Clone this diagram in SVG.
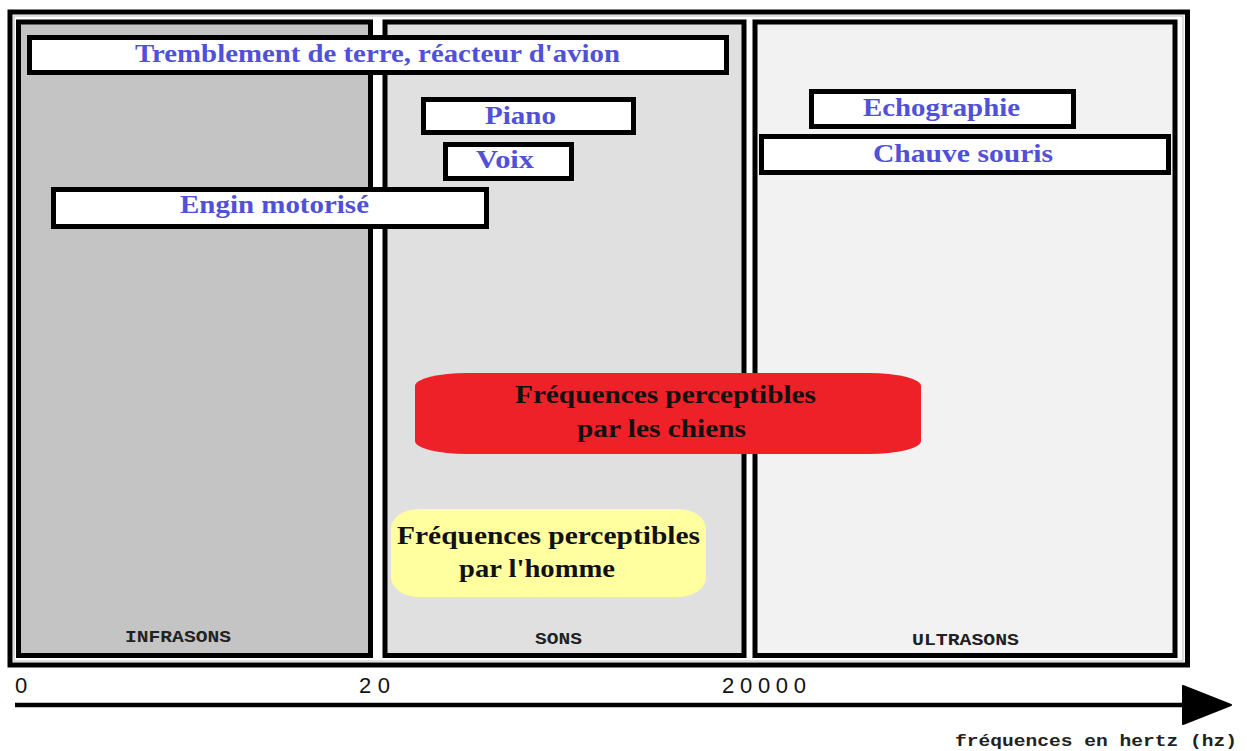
<svg xmlns="http://www.w3.org/2000/svg" width="1247" height="751" viewBox="0 0 1247 751">
<style>
.panel{stroke:#000;stroke-width:5}
.box{fill:#fff;stroke:#000;stroke-width:5}
.lbl{font-family:"Liberation Serif",serif;font-weight:bold;font-size:26px;fill:#5050d8}
.blk{font-family:"Liberation Serif",serif;font-weight:bold;font-size:25px;fill:#111}
.mono{font-family:"Liberation Mono",monospace;font-weight:bold;font-size:17px;fill:#222}
.num{font-family:"Liberation Sans",sans-serif;font-size:22px;fill:#111}
</style>
<defs>
<marker id="arr" markerUnits="userSpaceOnUse" markerWidth="52" markerHeight="40" refX="2" refY="20" orient="auto">
<path d="M2,1 L50,20 L2,39 Z" fill="#000" stroke="#000" stroke-width="2" stroke-linejoin="round"/>
</marker>
</defs>
<rect width="1247" height="751" fill="#fff"/>
<g id="frame">
<rect x="10" y="12" width="1177.5" height="653" fill="#fff" stroke="#000" stroke-width="5"/>
<rect x="14" y="16" width="1169" height="645" fill="none" stroke="#bbb" stroke-width="1"/>
</g>
<g id="infrasons">
<rect class="panel" x="18.5" y="22" width="352" height="633.5" fill="#c4c4c4"/>
<text class="mono" x="125" y="642" textLength="106" lengthAdjust="spacingAndGlyphs">INFRASONS</text>
</g>
<g id="sons">
<rect class="panel" x="385" y="22" width="359" height="633.5" fill="#e0e0e0"/>
<text class="mono" x="535" y="644" textLength="47" lengthAdjust="spacingAndGlyphs">SONS</text>
</g>
<g id="ultrasons">
<rect class="panel" x="755" y="22" width="420" height="633.5" fill="#f2f2f2"/>
<text class="mono" x="912" y="645" textLength="107" lengthAdjust="spacingAndGlyphs">ULTRASONS</text>
</g>
<g id="tremblement">
<rect class="box" x="29.5" y="37.5" width="697" height="35"/>
<text class="lbl" x="135" y="62" textLength="485" lengthAdjust="spacingAndGlyphs">Tremblement de terre, réacteur d'avion</text>
</g>
<g id="piano">
<rect class="box" x="423.5" y="99.5" width="210" height="33"/>
<text class="lbl" x="485" y="124" textLength="71" lengthAdjust="spacingAndGlyphs">Piano</text>
</g>
<g id="voix">
<rect class="box" x="445.5" y="144.5" width="126" height="34"/>
<text class="lbl" x="476" y="168" textLength="58" lengthAdjust="spacingAndGlyphs">Voix</text>
</g>
<g id="engin">
<rect class="box" x="53.5" y="189.5" width="433" height="37"/>
<text class="lbl" x="180" y="213" textLength="189" lengthAdjust="spacingAndGlyphs">Engin motorisé</text>
</g>
<g id="echographie">
<rect class="box" x="811.5" y="91.5" width="262" height="35"/>
<text class="lbl" x="863" y="116" textLength="157" lengthAdjust="spacingAndGlyphs">Echographie</text>
</g>
<g id="chauve">
<rect class="box" x="761.5" y="136.5" width="407" height="36"/>
<text class="lbl" x="873" y="162" textLength="180" lengthAdjust="spacingAndGlyphs">Chauve souris</text>
</g>
<g id="chiens">
<rect x="415" y="373" width="506" height="81" rx="52" ry="13" fill="#ee2028"/>
<text class="blk" x="515" y="403" textLength="301" lengthAdjust="spacingAndGlyphs">Fréquences perceptibles</text>
<text class="blk" x="577" y="437" textLength="169" lengthAdjust="spacingAndGlyphs">par les chiens</text>
</g>
<g id="homme">
<rect x="391" y="509" width="315" height="88" rx="28" ry="20" fill="#ffffa0"/>
<text class="blk" x="397" y="544" textLength="303" lengthAdjust="spacingAndGlyphs">Fréquences perceptibles</text>
<text class="blk" x="459" y="577" textLength="156" lengthAdjust="spacingAndGlyphs">par l'homme</text>
</g>
<g id="connectors">
<line x1="15" y1="705" x2="1183" y2="705" stroke="#000" stroke-width="4.5" marker-end="url(#arr)"/>
</g>
<g id="axis-labels">
<text class="num" x="15" y="693">0</text>
<text class="num" x="359" y="693" textLength="31">20</text>
<text class="num" x="722" y="693" textLength="84">20000</text>
<text class="mono" x="955" y="746" font-size="19" textLength="282" lengthAdjust="spacingAndGlyphs">fréquences en hertz (hz)</text>
</g>
</svg>
